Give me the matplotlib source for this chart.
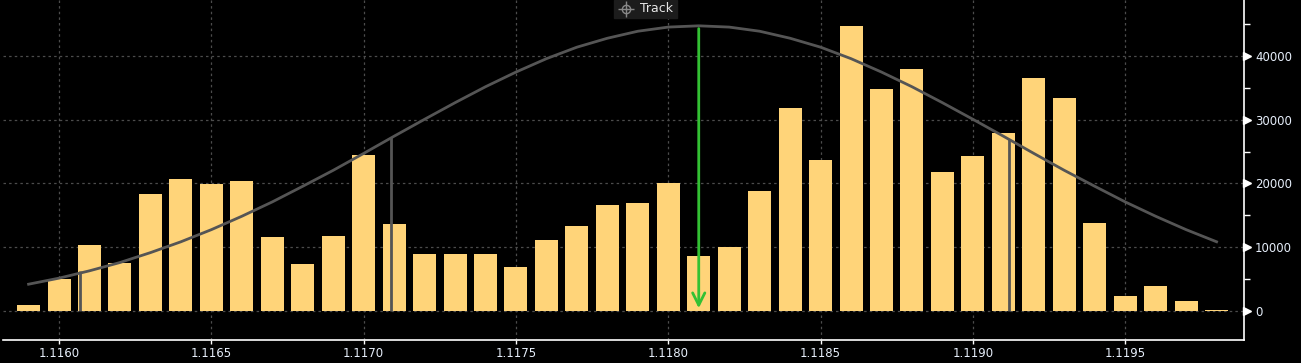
import matplotlib.pyplot as plt
from matplotlib.ticker import FixedLocator

prices = [1.1159, 1.1160, 1.1161, 1.1162, 1.1163, 1.1164, 1.1165, 1.1166, 1.1167, 1.1168,
          1.1169, 1.1170, 1.1171, 1.1172, 1.1173, 1.1174, 1.1175, 1.1176, 1.1177, 1.1178,
          1.1179, 1.1180, 1.1181, 1.1182, 1.1183, 1.1184, 1.1185, 1.1186, 1.1187, 1.1188,
          1.1189, 1.1190, 1.1191, 1.1192, 1.1193, 1.1194, 1.1195, 1.1196, 1.1197, 1.1198]
volume = [950, 5000, 10300, 7500, 18300, 20700, 19900, 20400, 11600, 7400,
          11750, 24450, 13600, 8900, 8900, 8900, 6900, 11100, 13300, 16600,
          16900, 20000, 8600, 10000, 18800, 31800, 23700, 44700, 34800, 37900,
          21800, 24300, 27900, 36500, 33400, 13800, 2350, 3900, 1600, 150]
# fitted curve, one point per price level
curve = [4200, 5150, 6300, 7600, 9150, 10850, 12750, 14850, 17100, 19550,
         22050, 24700, 27400, 30050, 32650, 35150, 37450, 39550, 41350, 42750,
         43850, 44500, 44700, 44500, 43850, 42750, 41350, 39550, 37450, 35150,
         32650, 30050, 27400, 24700, 22050, 19550, 17100, 14850, 12750, 10850]
marker_prices = [1.11607, 1.11709, 1.11912]
marker_tops = [6200, 27200, 27000]
track_price = 1.11810
track_top = 44700
xticks = [1.1160, 1.1165, 1.1170, 1.1175, 1.1180, 1.1185, 1.1190, 1.1195]
yticks = [0, 10000, 20000, 30000, 40000]

fig = plt.figure(figsize=(13.01, 3.63), dpi=100, facecolor='black')
ax = fig.add_axes([3 / 1301, 23 / 363, 1241 / 1301, 340 / 363])
ax.set_facecolor('black')

ax.set_xlim(1.115816, 1.119890)
ax.set_ylim(-4545, 48746)

for x in xticks:
    ax.axvline(x, color='#4c4c4c', lw=0.9, ls=(0, (2, 2.5)), zorder=0)
for y in yticks:
    ax.axhline(y, color='#4c4c4c', lw=0.9, ls=(0, (2, 2.5)), zorder=0)

ax.bar(prices, volume, width=0.0000755, color='#FFD479', zorder=2)
ax.plot(prices, curve, color='#555555', lw=2, zorder=3)
ax.vlines(marker_prices, 0, marker_tops, color='#555555', lw=2, zorder=3)

ax.annotate('', xy=(track_price, 0), xytext=(track_price, track_top),
            arrowprops=dict(arrowstyle='->', color='#33C133', lw=2,
                            mutation_scale=22), zorder=4)

for s in ['left', 'top']:
    ax.spines[s].set_visible(False)
ax.spines['bottom'].set_color('white')
ax.spines['right'].set_color('white')
ax.spines['bottom'].set_linewidth(1.2)
ax.spines['right'].set_linewidth(1.2)

ax.yaxis.tick_right()
ax.yaxis.set_major_locator(FixedLocator(yticks))
ax.yaxis.set_minor_locator(FixedLocator([5000, 15000, 25000, 35000, 45000]))
ax.tick_params(axis='y', which='major', length=0, pad=8, labelsize=8.5, labelcolor='#e6eefa')
ax.tick_params(axis='y', which='minor', length=4, width=1, color='white')
ax.plot([1.0025] * len(yticks), yticks, marker='>', ms=5.5, color='white', ls='none',
        transform=ax.get_yaxis_transform(), clip_on=False, zorder=5)

ax.xaxis.set_major_locator(FixedLocator(xticks))
ax.set_xticklabels(['%.4f' % x for x in xticks])
ax.tick_params(axis='x', which='major', length=3, width=1, color='white', pad=2,
               labelsize=8.5, labelcolor='#e6eefa')

# Track legend box
fig.patches.append(plt.Rectangle((614 / 1301, 1 - 18 / 363), 63 / 1301, 18 / 363,
                                 transform=fig.transFigure, color='#1c1c1c', zorder=0))
fig.text(640 / 1301, 1 - 9 / 363, 'Track', color='#e6e6e6', fontsize=9, va='center')
fig.lines.append(plt.Line2D([626 / 1301], [1 - 9 / 363], marker='o', ms=6, mfc='none',
                            mec='#888888', transform=fig.transFigure))
fig.lines.append(plt.Line2D([626 / 1301], [1 - 9 / 363], marker='+', ms=11,
                            mec='#888888', transform=fig.transFigure))

fig.savefig('out.png', dpi=100, facecolor='black')
